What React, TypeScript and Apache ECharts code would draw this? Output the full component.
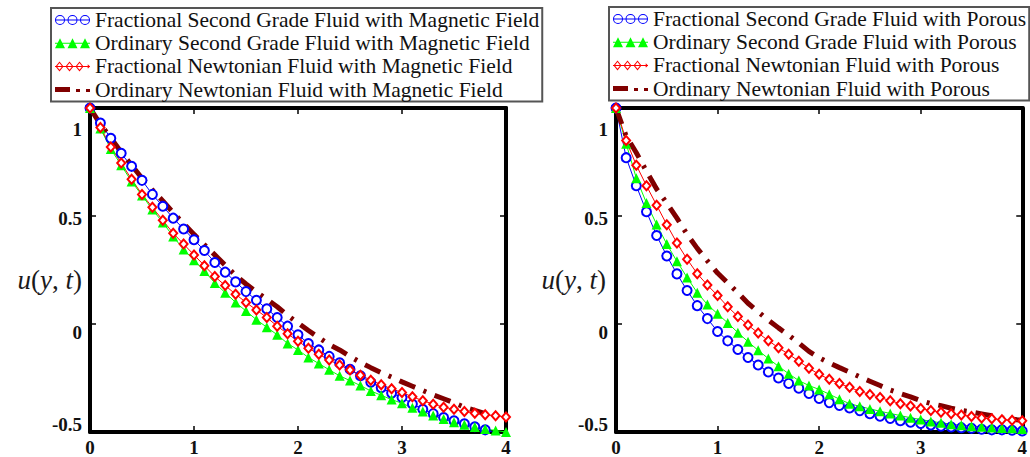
import React, { useEffect, useRef } from "react";
import * as echarts from "echarts";

// y positions along the plate (x axis)
const X = [0, 0.1, 0.2, 0.3, 0.4, 0.5, 0.6, 0.7, 0.8, 0.9, 1.0, 1.1, 1.2, 1.3, 1.4, 1.5, 1.6, 1.7, 1.8, 1.9, 2.0,
  2.1, 2.2, 2.3, 2.4, 2.5, 2.6, 2.7, 2.8, 2.9, 3.0, 3.1, 3.2, 3.3, 3.4, 3.5, 3.6, 3.7, 3.8, 3.9, 4.0];

// Left panel: magnetic field
const fracSecondMag = [1.0, 0.93, 0.86, 0.79, 0.73, 0.665, 0.6, 0.545, 0.49, 0.44, 0.39, 0.34, 0.285, 0.24, 0.195, 0.15, 0.11, 0.07, 0.03, -0.01, -0.05,
  -0.09, -0.12, -0.15, -0.18, -0.21, -0.24, -0.27, -0.295, -0.32, -0.34, -0.37, -0.395, -0.415, -0.433, -0.448, -0.462, -0.476, -0.49, -0.505, -0.52];
const ordSecondMag = [1.0, 0.905, 0.81, 0.735, 0.66, 0.595, 0.53, 0.47, 0.405, 0.345, 0.295, 0.245, 0.19, 0.145, 0.1, 0.06, 0.02, -0.015, -0.05, -0.09, -0.12,
  -0.155, -0.183, -0.212, -0.24, -0.262, -0.285, -0.31, -0.33, -0.35, -0.367, -0.388, -0.405, -0.424, -0.44, -0.455, -0.466, -0.477, -0.486, -0.493, -0.5];
const fracNewtMag = [1.0, 0.91, 0.82, 0.745, 0.67, 0.6, 0.54, 0.48, 0.42, 0.37, 0.32, 0.27, 0.22, 0.178, 0.138, 0.1, 0.065, 0.03, -0.01, -0.045, -0.08,
  -0.112, -0.14, -0.167, -0.19, -0.213, -0.237, -0.26, -0.281, -0.3, -0.317, -0.337, -0.355, -0.371, -0.385, -0.395, -0.405, -0.413, -0.42, -0.425, -0.43];
const ordNewtMag = [1.0, 0.925, 0.862, 0.795, 0.735, 0.675, 0.62, 0.57, 0.515, 0.465, 0.415, 0.367, 0.32, 0.272, 0.225, 0.185, 0.148, 0.115, 0.08, 0.04, 0.005,
  -0.03, -0.063, -0.095, -0.12, -0.15, -0.178, -0.202, -0.225, -0.246, -0.268, -0.288, -0.308, -0.328, -0.346, -0.365, -0.385, -0.4, -0.415, -0.428, -0.44];

// Right panel: porous medium
const fracSecondPor = [1.0, 0.77, 0.64, 0.52, 0.41, 0.315, 0.232, 0.155, 0.085, 0.025, -0.035, -0.078, -0.118, -0.155, -0.19, -0.222, -0.25, -0.275, -0.297, -0.322, -0.345,
  -0.364, -0.377, -0.389, -0.401, -0.415, -0.427, -0.437, -0.448, -0.455, -0.461, -0.467, -0.473, -0.477, -0.48, -0.483, -0.487, -0.49, -0.49, -0.492, -0.495];
const ordSecondPor = [1.0, 0.835, 0.675, 0.56, 0.461, 0.37, 0.29, 0.215, 0.145, 0.09, 0.047, 0.005, -0.04, -0.082, -0.122, -0.16, -0.196, -0.23, -0.262, -0.285, -0.303,
  -0.325, -0.348, -0.369, -0.381, -0.393, -0.404, -0.414, -0.424, -0.434, -0.442, -0.451, -0.457, -0.464, -0.469, -0.473, -0.476, -0.479, -0.481, -0.483, -0.486];
const fracNewtPor = [1.0, 0.85, 0.735, 0.64, 0.55, 0.46, 0.375, 0.3, 0.233, 0.18, 0.132, 0.08, 0.035, -0.005, -0.042, -0.077, -0.11, -0.14, -0.172, -0.205, -0.233,
  -0.256, -0.276, -0.293, -0.312, -0.326, -0.34, -0.355, -0.369, -0.38, -0.391, -0.401, -0.408, -0.415, -0.421, -0.428, -0.435, -0.439, -0.443, -0.446, -0.448];
const ordNewtPor = [1.0, 0.87, 0.793, 0.707, 0.625, 0.56, 0.49, 0.415, 0.35, 0.292, 0.236, 0.19, 0.145, 0.096, 0.056, 0.018, -0.018, -0.052, -0.088, -0.127, -0.156,
  -0.18, -0.202, -0.223, -0.245, -0.265, -0.285, -0.306, -0.322, -0.337, -0.355, -0.368, -0.378, -0.39, -0.4, -0.407, -0.416, -0.425, -0.435, -0.441, -0.446];

const leftNames = [
  "Fractional Second Grade Fluid with Magnetic Field",
  "Ordinary Second Grade Fluid with Magnetic Field",
  "Fractional Newtonian Fluid with Magnetic Field",
  "Ordinary Newtonian Fluid with Magnetic Field",
];
const rightNames = [
  "Fractional Second Grade Fluid with Porous",
  "Ordinary Second Grade Fluid with Porous",
  "Fractional Newtonian Fluid with Porous",
  "Ordinary Newtonian Fluid with Porous",
];

const xTickValues = [0, 1, 2, 3, 4];
const xTickLabels = ["0", "1", "2", "3", "4"];
const yTickValues = [-0.5, 0, 0.5, 1];
const yTickLabels = ["-0.5", "0", "0.5", "1"];
const yAxisTitle = ["u", "(", "y", ", ", "t", ")"];

const COLORS = ["#0000ff", "#00ff00", "#ff0000", "#800000"];

const SERIF = "'Liberation Serif', 'Times New Roman', serif";
const labelBase = { fontFamily: SERIF, fontWeight: "bold" as const, fontSize: 19, color: "#111" };

// legend icon shapes (35 x 10 box)
const ring = (cx: number) =>
  `M${cx - 5} 5A5 5 0 1 1 ${cx + 5} 5A5 5 0 1 1 ${cx - 5} 5Z` +
  `M${cx - 4} 5A4 4 0 1 0 ${cx + 4} 5A4 4 0 1 0 ${cx - 4} 5Z`;
const tri = (cx: number) => `M${cx} 0L${cx + 5} 10L${cx - 5} 10Z`;
const dia = (cx: number) =>
  `M${cx} 0L${cx + 4} 5L${cx} 10L${cx - 4} 5Z` + `M${cx} 1.6L${cx - 2.7} 5L${cx} 8.4L${cx + 2.7} 5Z`;
const bar = "M0 4.5L35 4.5L35 5.5L0 5.5Z";
const ICONS = [
  "path://" + ring(5) + ring(17.5) + ring(30) + bar,
  "path://" + tri(5) + tri(17.5) + tri(30) + bar,
  "path://" + dia(4.5) + dia(14.5) + dia(24.5) + "M33 3L35 5L33 7L32.3 6.3L33.6 5L32.3 3.7Z" + bar,
  "path://M0 1L15 1L15 6L0 6ZM21 3L25 3L25 6L21 6ZM31 3L35 3L35 6L31 6Z",
];

function App() {
  const ref = useRef<HTMLDivElement>(null);
  useEffect(() => {
    if (!ref.current) return;
    const chart = echarts.init(ref.current, undefined, { renderer: "svg" });

    const pair = (ys: number[]) => X.map((x, i) => [x, ys[i]]);

    const grids = [
      { left: 90, top: 108, width: 416, height: 325 },
      { left: 616, top: 108, width: 415, height: 325 },
    ];

    const xFmt = (v: number) => {
      const i = xTickValues.findIndex((t) => Math.abs(t - v) < 1e-9);
      return i >= 0 ? xTickLabels[i] : "";
    };
    const yFmt = (v: number) => {
      const i = yTickValues.findIndex((t) => Math.abs(t - v) < 1e-9);
      const s = i >= 0 ? yTickLabels[i] : "";
      if (Math.abs(v - 1) < 1e-9) return `{top|${s}}`;
      if (Math.abs(v) < 1e-9) return `{zero|${s}}`;
      if (Math.abs(v + 0.5) < 1e-9) return `{bot|${s}}`;
      return `{mid|${s}}`;
    };

    const axisLine = { show: true, onZero: false, lineStyle: { color: "#000", width: 4 } };
    const tick = { show: true, inside: true, length: 6, lineStyle: { color: "#000", width: 1.5 } };

    const xAxes: any[] = [];
    const yAxes: any[] = [];
    [0, 1].forEach((g) => {
      xAxes.push({
        type: "value", gridIndex: g, min: 0, max: 4, interval: 1, position: "bottom",
        axisLine, axisTick: tick, splitLine: { show: false },
        axisLabel: { ...labelBase, margin: 6, formatter: xFmt },
      });
      xAxes.push({
        type: "value", gridIndex: g, min: 0, max: 4, interval: 1, position: "top",
        axisLine, axisTick: tick, splitLine: { show: false }, axisLabel: { show: false },
      });
      yAxes.push({
        type: "value", gridIndex: g, min: -0.5, max: 1, interval: 0.5, position: "left",
        axisLine, axisTick: tick, splitLine: { show: false },
        axisLabel: {
          ...labelBase, margin: 8, formatter: yFmt,
          rich: {
            top: { ...labelBase, padding: [42, 0, 0, 0] },
            zero: { ...labelBase, padding: [16, 0, 0, 0] },
            bot: { ...labelBase, padding: [0, 0, 16, 0] },
            mid: { ...labelBase, padding: [5, 0, 0, 0] },
          },
        },
        name: `{i|${yAxisTitle[0]}}{n|${yAxisTitle[1]}}{i|${yAxisTitle[2]}}{n|${yAxisTitle[3]}}{i|${yAxisTitle[4]}}{n|${yAxisTitle[5]}}`,
        nameLocation: "middle",
        nameRotate: 0,
        nameGap: g === 0 ? 8 : 10,
        nameMoveOverlap: false,
        nameTextStyle: {
          padding: [20, 0, 0, 0],
          rich: {
            i: { fontFamily: SERIF, fontStyle: "italic", fontSize: 27, color: "#1a1a1a" },
            n: { fontFamily: SERIF, fontSize: 27, color: "#1a1a1a" },
          },
        },
      });
      yAxes.push({
        type: "value", gridIndex: g, min: -0.5, max: 1, interval: 0.5, position: "right",
        axisLine, axisTick: tick, splitLine: { show: false }, axisLabel: { show: false },
      });
    });

    const mkSeries = (names: string[], data: number[][], g: number) => [
      {
        name: names[0], type: "line", xAxisIndex: g * 2, yAxisIndex: g * 2, data: pair(data[0]),
        symbol: "emptyCircle", symbolSize: 9, showAllSymbol: true,
        lineStyle: { color: COLORS[0], width: 1 }, itemStyle: { color: COLORS[0], borderWidth: 1 },
      },
      {
        name: names[1], type: "line", xAxisIndex: g * 2, yAxisIndex: g * 2, data: pair(data[1]),
        symbol: "triangle", symbolSize: 10, showAllSymbol: true,
        lineStyle: { color: COLORS[1], width: 1 }, itemStyle: { color: COLORS[1] },
      },
      {
        name: names[2], type: "line", xAxisIndex: g * 2, yAxisIndex: g * 2, data: pair(data[2]),
        symbol: "emptyDiamond", symbolSize: [8, 9], showAllSymbol: true,
        lineStyle: { color: COLORS[2], width: 1 }, itemStyle: { color: COLORS[2], borderWidth: 1 },
      },
      {
        name: names[3], type: "line", xAxisIndex: g * 2, yAxisIndex: g * 2, data: pair(data[3]),
        symbol: "none",
        lineStyle: { color: COLORS[3], width: 5, type: [17, 9, 3, 9], cap: "butt" }, itemStyle: { color: COLORS[3] },
      },
    ];

    const legendData = (names: string[]) =>
      names.map((n, i) => ({ name: n, icon: ICONS[i], itemStyle: { color: COLORS[i], borderWidth: 0 } }));

    const legendBase = {
      orient: "vertical", itemWidth: 35, itemHeight: 10, itemGap: 1.2,
      padding: [1, 3, 1, 4], borderColor: "#555", borderWidth: 2, backgroundColor: "#fff",
      selectedMode: false, symbolKeepAspect: true,
      textStyle: { fontFamily: SERIF, fontSize: 21.5, color: "#111", lineHeight: 22 },
    };

    chart.setOption({
      animation: false,
      backgroundColor: "#fff",
      grid: grids,
      xAxis: xAxes,
      yAxis: yAxes,
      legend: [
        { ...legendBase, data: legendData(leftNames), left: 51, top: 8 },
        { ...legendBase, data: legendData(rightNames), left: 609, top: 7 },
      ],
      series: [
        ...mkSeries(leftNames, [fracSecondMag, ordSecondMag, fracNewtMag, ordNewtMag], 0),
        ...mkSeries(rightNames, [fracSecondPor, ordSecondPor, fracNewtPor, ordNewtPor], 1),
      ],
    });
    return () => chart.dispose();
  }, []);
  return <div ref={ref} style={{ position: "absolute", left: 0, top: 0, width: 1030, height: 457 }} />;
}

export default App;
